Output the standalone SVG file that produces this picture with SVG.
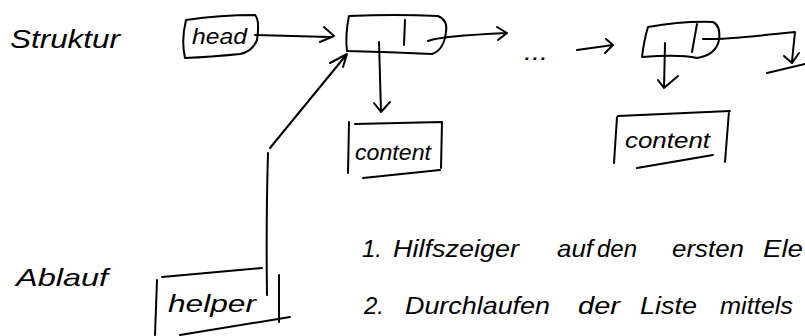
<svg xmlns="http://www.w3.org/2000/svg" width="805" height="336" viewBox="0 0 805 336">
  <style>
    .ink { fill: none; stroke: #000; stroke-width: 2; stroke-linecap: round; stroke-linejoin: round; }
    .hand { font-family: "Liberation Sans", "DejaVu Sans", sans-serif; fill: #000; font-style: italic; }
  </style>
  <rect width="805" height="336" fill="#fff"/>

  <!-- section labels -->
  <text class="hand" x="10" y="48" font-size="26" textLength="110" lengthAdjust="spacingAndGlyphs">Struktur</text>
  <text class="hand" x="16" y="286" font-size="24" textLength="92" lengthAdjust="spacingAndGlyphs">Ablauf</text>

  <!-- head pointer -->
  <g id="head">
    <path class="ink" d="M186,20 Q220,15 255,15 Q260,20 257,40 Q252,52 240,54 Q210,57 185,58 Q181,40 186,20 Z"/>
    <text class="hand" x="192" y="44" font-size="22" textLength="55" lengthAdjust="spacingAndGlyphs">head</text>
  </g>

  <!-- first list node -->
  <g id="node1">
    <path class="ink" d="M349,16 Q395,14 438,16 Q448,20 446,32 Q444,50 432,54 Q390,52 347,51 Q345,35 349,16 Z"/>
    <path class="ink" d="M405,20 L404,45"/>
  </g>

  <!-- last list node -->
  <g id="node2">
    <path class="ink" d="M648,27 Q682,21 713,22 Q721,26 719,40 Q716,55 697,58 Q680,54 642,57 Q644,40 648,27 Z"/>
    <path class="ink" d="M697,24 L692,52"/>
  </g>

  <!-- content boxes -->
  <g id="content1">
    <path class="ink" d="M349,122 L348,173 M355,124 L442,122 M442,122 L441,168 M363,178 L440,170"/>
    <text class="hand" x="355" y="160" font-size="22" textLength="76" lengthAdjust="spacingAndGlyphs">content</text>
  </g>
  <g id="content2">
    <path class="ink" d="M617,117 L614,163 M618,116 L730,111 M729,111 L725,162 M637,168 L713,155"/>
    <text class="hand" x="625" y="148" font-size="22" textLength="85" lengthAdjust="spacingAndGlyphs">content</text>
  </g>

  <!-- helper pointer -->
  <g id="helper">
    <path class="ink" d="M162,277 L262,268 M157,280 L155,335 M180,335 L290,317 M279,275 L279,322"/>
    <text class="hand" x="168" y="312" font-size="24" textLength="88" lengthAdjust="spacingAndGlyphs">helper</text>
  </g>

  <!-- connectors -->
  <g id="connectors">
    <!-- head -> node1 -->
    <path class="ink" d="M255,35 L330,37 M320,42 L334,36 L324,27"/>
    <!-- node1 -> next -->
    <path class="ink" d="M428,41 Q440,36 507,33 M497,27 L507,33 L498,40"/>
    <!-- ... -> node2 -->
    <path class="ink" d="M577,50 L613,45 M606,39 L613,45 L605,53"/>
    <!-- node1 -> content1 -->
    <path class="ink" d="M379,42 L381,112 M374,103 L381,112 L390,102"/>
    <!-- node2 -> content2 -->
    <path class="ink" d="M665,43 L664,88 M658,80 L664,88 L678,76"/>
    <!-- node2 -> null -->
    <path class="ink" d="M703,39 Q720,40 795,32 L792,61 M784,56 L792,63 L799,53 M767,73 L805,64"/>
    <!-- helper -> node1 -->
    <path class="ink" d="M267,295 Q266,220 268,153 M270,148 L347,54 M330,63 L347,54 L343,67"/>
  </g>

  <!-- ellipsis between nodes -->
  <text class="hand" x="524" y="60" font-size="22" textLength="24" lengthAdjust="spacingAndGlyphs">...</text>

  <!-- procedure steps -->
  <text class="hand" font-size="24" y="257">
    <tspan x="362">1.</tspan><tspan x="393" textLength="126" lengthAdjust="spacingAndGlyphs">Hilfszeiger</tspan><tspan x="557" textLength="36" lengthAdjust="spacingAndGlyphs">auf</tspan><tspan x="597" textLength="40" lengthAdjust="spacingAndGlyphs">den</tspan><tspan x="672" textLength="72" lengthAdjust="spacingAndGlyphs">ersten</tspan><tspan x="763" textLength="40" lengthAdjust="spacingAndGlyphs">Ele</tspan>
  </text>
  <text class="hand" font-size="24" y="314">
    <tspan x="364">2.</tspan><tspan x="405" textLength="145" lengthAdjust="spacingAndGlyphs">Durchlaufen</tspan><tspan x="578" textLength="42" lengthAdjust="spacingAndGlyphs">der</tspan><tspan x="640" textLength="57" lengthAdjust="spacingAndGlyphs">Liste</tspan><tspan x="720" textLength="73" lengthAdjust="spacingAndGlyphs">mittels</tspan>
  </text>
</svg>
